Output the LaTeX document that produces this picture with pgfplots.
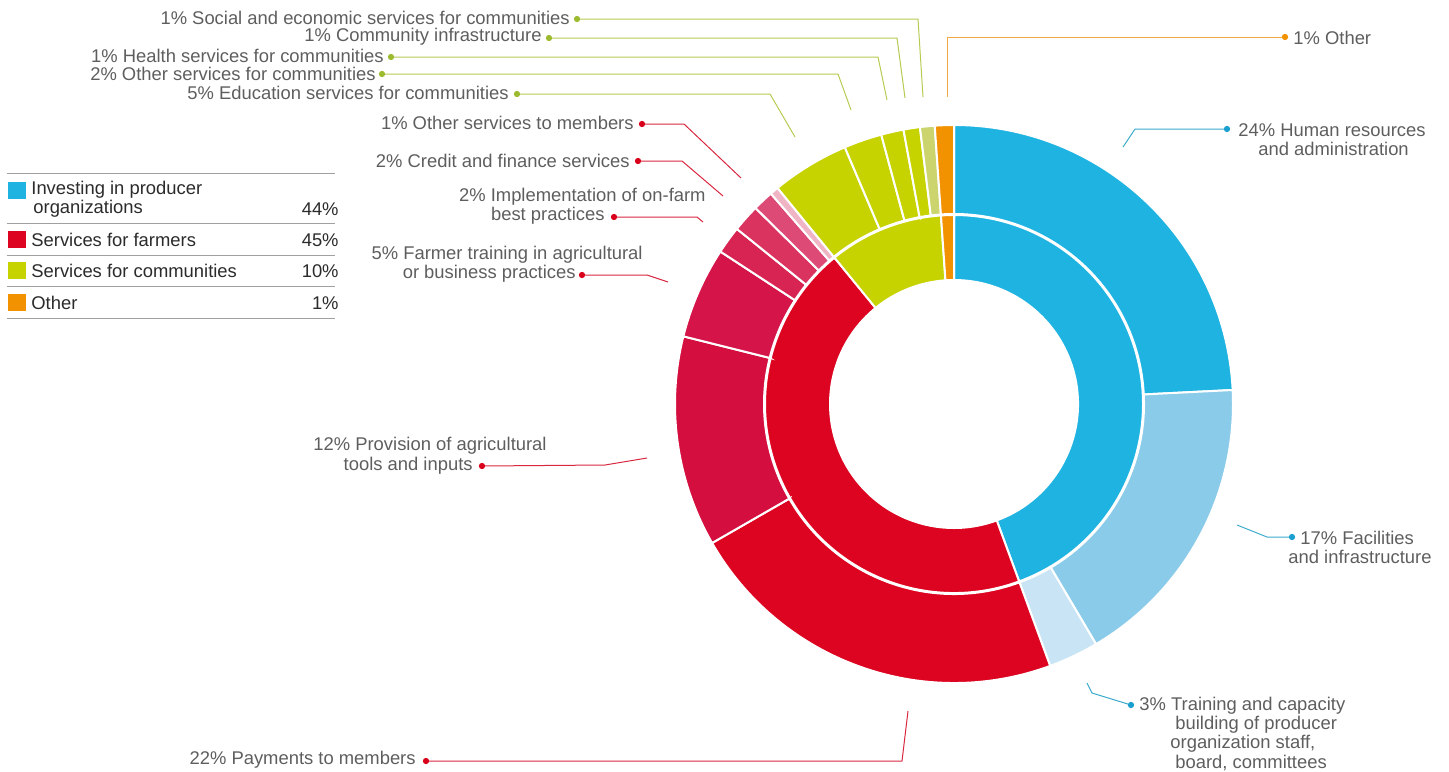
\documentclass[border=0pt]{standalone}
\usepackage{pgfplots}
\pgfplotsset{compat=1.18}
\usepackage{fontspec}
\setmainfont{Liberation Sans}
\definecolor{cblue}{HTML}{1FB3E2}
\definecolor{cblue2}{HTML}{8BCBEA}
\definecolor{cblue3}{HTML}{C9E5F5}
\definecolor{cred}{HTML}{DC0420}
\definecolor{cred2}{HTML}{D40F3F}
\definecolor{cred3}{HTML}{D5154A}
\definecolor{cred4}{HTML}{D82453}
\definecolor{cred5}{HTML}{DB3360}
\definecolor{cred6}{HTML}{DC4A75}
\definecolor{cred7}{HTML}{F0B5C5}
\definecolor{cyel}{HTML}{C7D300}
\definecolor{cyel2}{HTML}{CCD46E}
\definecolor{corg}{HTML}{F39200}
\definecolor{lgreen}{HTML}{B8CA52}
\definecolor{dgreen}{HTML}{9DBB30}
\definecolor{lred}{HTML}{D8263F}
\definecolor{dred}{HTML}{D9001B}
\definecolor{lblue}{HTML}{3AAACB}
\definecolor{dblue}{HTML}{1A9FD0}
\definecolor{lorg}{HTML}{F2AA45}
\definecolor{txtgray}{HTML}{5E5E5E}
\definecolor{legtxt}{HTML}{2B2B2B}
\definecolor{rulegray}{HTML}{A0A0A0}
\tikzset{lbl/.style={font=\fontsize{9.2}{9.5}\selectfont, text=txtgray, inner sep=0pt},
  leg/.style={font=\fontsize{9.2}{9.5}\selectfont, text=legtxt, inner sep=0pt}}
\pgfplotsset{ldr/.style={line width=0.5pt, mark=*, mark indices={1}, mark size=1.3pt}}
% segment: start%, end%, inner radius, outer radius, colour (radii in px, centre 954,404)
\newcommand{\seg}[5]{%
 \filldraw[fill=#5, draw=white, line width=1pt]
 (axis cs:{954+#3*sin(3.6*#1)},{404-#3*cos(3.6*#1)}) --
 (axis cs:{954+#4*sin(3.6*#1)},{404-#4*cos(3.6*#1)})
 arc[start angle={90-3.6*#1}, end angle={90-3.6*#2}, radius={#4*0.5pt}] --
 (axis cs:{954+#3*sin(3.6*#2)},{404-#3*cos(3.6*#2)})
 arc[start angle={90-3.6*#2}, end angle={90-3.6*#1}, radius={#3*0.5pt}] -- cycle;}
\begin{document}
\begin{tikzpicture}
\begin{axis}[width=724.5pt, height=385.5pt, scale only axis,
  xmin=0, xmax=1449, ymin=0, ymax=771, y dir=reverse,
  hide axis, clip=false]
\path (axis cs:0,0) rectangle (axis cs:1449,771);
% inner ring
\seg{0}{44.4}{124}{189}{cblue}
\seg{44.4}{89.1}{124}{189}{cred}
\seg{89.1}{98.9}{124}{189}{cyel}
\seg{98.9}{100}{124}{189}{corg}
% outer ring
\seg{0}{24.2}{190}{279}{cblue}
\seg{24.2}{41.5}{190}{279}{cblue2}
\seg{41.5}{44.4}{190}{279}{cblue3}
\seg{44.4}{66.7}{190}{279}{cred}
\seg{66.7}{78.9}{190}{279}{cred2}
\seg{78.9}{84.2}{190}{279}{cred3}
\seg{84.2}{85.8}{190}{279}{cred4}
\seg{85.8}{87.4}{190}{279}{cred5}
\seg{87.4}{88.6}{190}{279}{cred6}
\seg{88.6}{89.1}{190}{279}{cred7}
\seg{89.1}{93.6}{190}{279}{cyel}
\seg{93.6}{95.8}{190}{279}{cyel}
\seg{95.8}{97.1}{190}{279}{cyel}
\seg{97.1}{98.05}{190}{279}{cyel}
\seg{98.05}{98.9}{190}{279}{cyel2}
\seg{98.9}{100}{190}{279}{corg}
% leader lines
\addplot[ldr, lgreen, mark options={fill=dgreen, draw=dgreen}] coordinates {(577,19) (918,19) (923,97)};
\addplot[ldr, lgreen, mark options={fill=dgreen, draw=dgreen}] coordinates {(549,38) (897,38) (905,98)};
\addplot[ldr, lgreen, mark options={fill=dgreen, draw=dgreen}] coordinates {(391,57) (878,57) (887,100)};
\addplot[ldr, lgreen, mark options={fill=dgreen, draw=dgreen}] coordinates {(382,74) (838,74) (851,110)};
\addplot[ldr, lgreen, mark options={fill=dgreen, draw=dgreen}] coordinates {(517,94) (770,94) (795,137)};
\addplot[ldr, lorg, mark options={fill=corg, draw=corg}] coordinates {(1285,37) (947,37) (947,97)};
\addplot[ldr, lred, mark options={fill=dred, draw=dred}] coordinates {(642,124) (684,124) (741,178)};
\addplot[ldr, lred, mark options={fill=dred, draw=dred}] coordinates {(638,161) (682,161) (723,196)};
\addplot[ldr, lred, mark options={fill=dred, draw=dred}] coordinates {(614,217) (697,217) (703,222)};
\addplot[ldr, lred, mark options={fill=dred, draw=dred}] coordinates {(582,275) (647,275) (668,282)};
\addplot[ldr, lred, mark options={fill=dred, draw=dred}] coordinates {(482,466) (605,465) (647,458)};
\addplot[ldr, lred, mark options={fill=dred, draw=dred}] coordinates {(426,761) (902,761) (908,711)};
\addplot[ldr, lblue, mark options={fill=dblue, draw=dblue}] coordinates {(1227,129) (1135,129) (1123,147)};
\addplot[ldr, lblue, mark options={fill=dblue, draw=dblue}] coordinates {(1292,537) (1267,537) (1237,525)};
\addplot[ldr, lblue, mark options={fill=dblue, draw=dblue}] coordinates {(1131,705) (1092,693) (1087,683)};
% labels
\node[lbl, anchor=east] at (axis cs:570,18) {1\% Social and economic services for communities};
\node[lbl, anchor=east] at (axis cs:542,37) {1\% Community infrastructure};
\node[lbl, anchor=east] at (axis cs:384,56) {1\% Health services for communities};
\node[lbl, anchor=east] at (axis cs:376,74) {2\% Other services for communities};
\node[lbl, anchor=east] at (axis cs:509,93) {5\% Education services for communities};
\node[lbl, anchor=east] at (axis cs:634,123) {1\% Other services to members};
\node[lbl, anchor=east] at (axis cs:630,161) {2\% Credit and finance services};
\node[lbl, anchor=east] at (axis cs:706,197) {2\% Implementation of on-farm};
\node[lbl, anchor=east] at (axis cs:605,216) {best practices};
\node[lbl, anchor=east] at (axis cs:643,255) {5\% Farmer training in agricultural};
\node[lbl, anchor=east] at (axis cs:576,274) {or business practices};
\node[lbl, anchor=east] at (axis cs:547,446) {12\% Provision of agricultural};
\node[lbl, anchor=east] at (axis cs:473,466) {tools and inputs};
\node[lbl, anchor=east] at (axis cs:416,760) {22\% Payments to members};
\node[lbl, anchor=west] at (axis cs:1238,130) {24\% Human resources};
\node[lbl, anchor=west] at (axis cs:1258,149) {and administration};
\node[lbl, anchor=west] at (axis cs:1300,538) {17\% Facilities};
\node[lbl, anchor=west] at (axis cs:1288,557) {and infrastructure};
\node[lbl, anchor=west] at (axis cs:1139,706) {3\% Training and capacity};
\node[lbl, anchor=west] at (axis cs:1175,725) {building of producer};
\node[lbl, anchor=west] at (axis cs:1170,744) {organization staff,};
\node[lbl, anchor=west] at (axis cs:1175,763) {board, committees};
\node[lbl, anchor=west] at (axis cs:1293,38) {1\% Other};
% legend
\draw[rulegray, line width=0.5pt] (axis cs:7,173) -- (axis cs:335,173);
\draw[rulegray, line width=0.5pt] (axis cs:7,223) -- (axis cs:335,223);
\draw[rulegray, line width=0.5pt] (axis cs:7,255) -- (axis cs:335,255);
\draw[rulegray, line width=0.5pt] (axis cs:7,286) -- (axis cs:335,286);
\draw[rulegray, line width=0.5pt] (axis cs:7,318) -- (axis cs:335,318);
\fill[cblue] (axis cs:8,182) rectangle (axis cs:26,199);
\fill[cred] (axis cs:8,231) rectangle (axis cs:26,248);
\fill[cyel] (axis cs:8,262) rectangle (axis cs:26,279);
\fill[corg] (axis cs:8,294) rectangle (axis cs:26,311);
\node[leg, anchor=west] at (axis cs:31,190) {Investing in producer};
\node[leg, anchor=west] at (axis cs:33,209) {organizations};
\node[leg, anchor=west] at (axis cs:31,240) {Services for farmers};
\node[leg, anchor=west] at (axis cs:31,271) {Services for communities};
\node[leg, anchor=west] at (axis cs:31,303) {Other};
\node[leg, anchor=east] at (axis cs:339,209) {44\%};
\node[leg, anchor=east] at (axis cs:339,240) {45\%};
\node[leg, anchor=east] at (axis cs:339,271) {10\%};
\node[leg, anchor=east] at (axis cs:339,303) {1\%};
\end{axis}
\end{tikzpicture}
\end{document}
